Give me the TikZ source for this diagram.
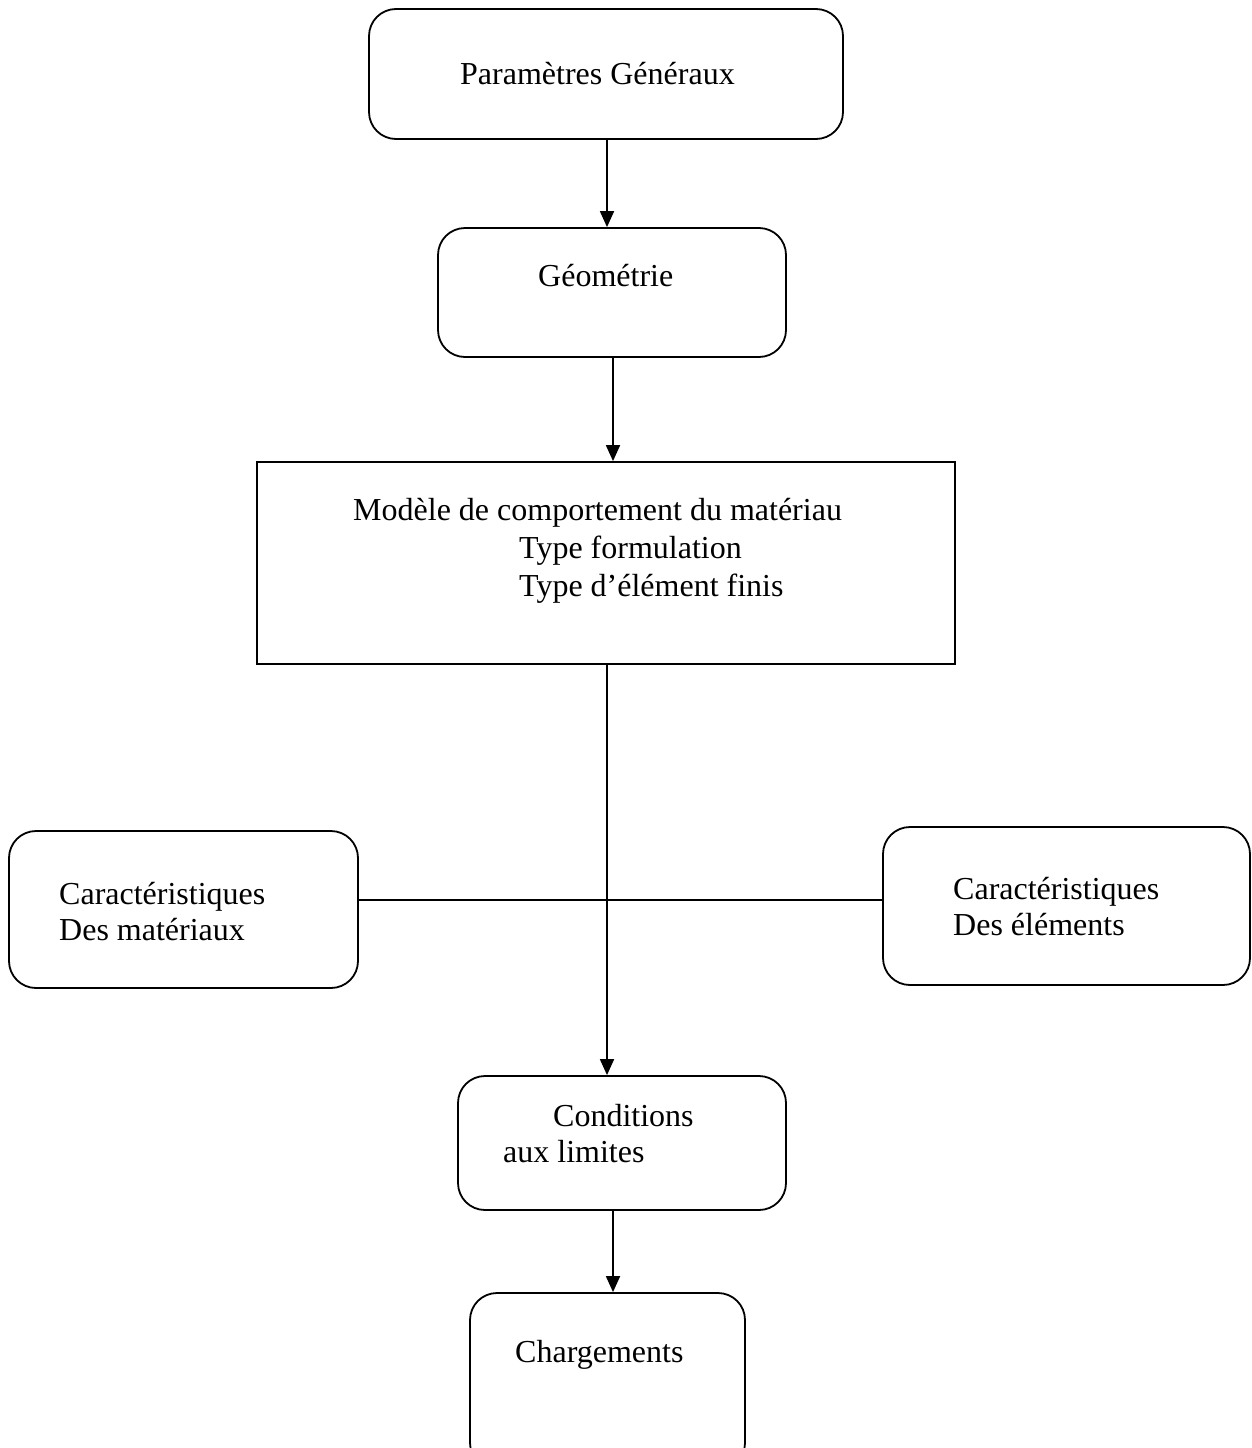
\documentclass[tikz,border=0pt]{standalone}
\usepackage{fontspec}
\setmainfont{Liberation Serif}
\usetikzlibrary{arrows.meta}
\begin{document}
\begin{tikzpicture}[x=1pt,y=-1pt,
 rbox/.style={draw, line width=1.8pt, rounded corners=27pt, inner sep=0pt},
 sbox/.style={draw, line width=1.8pt, inner sep=0pt},
 lbl/.style={anchor=base west, inner sep=0pt, font=\fontsize{32}{38}\selectfont},
 conn/.style={line width=1.8pt},
 arr/.style={conn, -{Triangle[width=14pt,length=16pt]}}]
\useasboundingbox (0,0) rectangle (1252,1448);
\begin{scope}
\clip (0,0) rectangle (1252,1448);
\node[rbox, minimum width=474pt, minimum height=130pt] (gen) at (606,74) {};
\node[rbox, minimum width=348pt, minimum height=129pt] (geo) at (612,292.5) {};
\node[sbox, minimum width=698pt, minimum height=202pt] (model) at (606,563) {};
\node[rbox, minimum width=349pt, minimum height=157pt] (mat) at (183.5,909.5) {};
\node[rbox, minimum width=367pt, minimum height=158pt] (elem) at (1066.5,906) {};
\node[rbox, minimum width=328pt, minimum height=134pt] (cond) at (622,1143) {};
\node[rbox, minimum width=275pt, minimum height=177pt] (charg) at (607.5,1381.5) {};
\end{scope}

\node[lbl] (tgen) at (460,84) {Paramètres Généraux};
\node[lbl] (tgeo) at (538,286) {Géométrie};
\node[lbl] (tm1) at (353,520) {Modèle de comportement du matériau};
\node[lbl] (tm2) at (519,558) {Type formulation};
\node[lbl] (tm3) at (519,596) {Type d’élément finis};
\node[lbl] (tma1) at (59,904) {Caractéristiques};
\node[lbl] (tma2) at (59,940) {Des matériaux};
\node[lbl] (tel1) at (953,899) {Caractéristiques};
\node[lbl] (tel2) at (953,935) {Des éléments};
\node[lbl] (tc1) at (553,1126) {Conditions};
\node[lbl] (tc2) at (503,1162) {aux limites};
\node[lbl] (tch) at (515,1362) {Chargements};

\coordinate (x1) at (607,0);
\coordinate (x2) at (613,0);
\coordinate (x3) at (607,0);
\coordinate (x4) at (613,0);
\coordinate (hl) at (0,900);

\draw[arr] (gen.south -| x1) -- (geo.north -| x1);
\draw[arr] (geo.south -| x2) -- (model.north -| x2);
\draw[arr] (model.south -| x3) -- (cond.north -| x3);
\draw[conn] (mat.east |- hl) -- (elem.west |- hl);
\draw[arr] (cond.south -| x4) -- (charg.north -| x4);
\end{tikzpicture}
\end{document}
